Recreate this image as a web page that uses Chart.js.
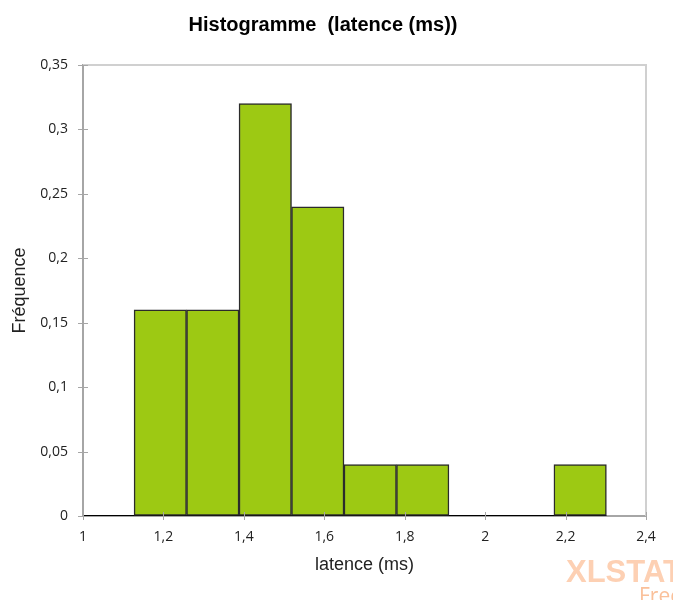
<!DOCTYPE html>
<html>
<head>
<meta charset="utf-8">
<script src="https://cdn.jsdelivr.net/npm/chart.js@4/dist/chart.umd.min.js"></script>
<style>
  body { margin: 0; background: #fff; }
</style>
</head>
<body>
<canvas id="histo" width="673" height="600"></canvas>
<script>
// bin edges (ms) and relative frequencies
var binEdges = [1.127, 1.2575, 1.388, 1.5185, 1.649, 1.7795, 1.91, 2.0405, 2.171, 2.3015]
var frequences = [0.16, 0.16, 0.32, 0.24, 0.04, 0.04, 0, 0, 0.04]
var xTicks = [1, 1.2, 1.4, 1.6, 1.8, 2, 2.2, 2.4]
var yTicks = [0, 0.05, 0.1, 0.15, 0.2, 0.25, 0.3, 0.35]

var barData = frequences.map(function (f, i) {
  return { x: (binEdges[i] + binEdges[i + 1]) / 2, y: f }
})
// black baseline of the histogram outline, from axis start to the last bin
var baseline = [{ x: xTicks[0], y: 0 }, { x: binEdges[binEdges.length - 1], y: 0 }]

function virgule(v) {
  return (Math.round(v * 100) / 100).toString().replace('.', ',')
}

var frame = {
  id: 'frame',
  afterDraw: function (chart) {
    var c = chart.ctx, a = chart.chartArea
    c.save()
    // top and right border
    c.strokeStyle = '#d0d0d0'
    c.lineWidth = 2
    c.beginPath()
    c.moveTo(a.left, a.top)
    c.lineTo(a.right, a.top)
    c.lineTo(a.right, a.bottom)
    c.stroke()
    // cross ticks
    c.strokeStyle = '#a6a6a6'
    c.lineWidth = 1
    c.beginPath()
    chart.scales.x.ticks.forEach(function (t) {
      var px = Math.round(chart.scales.x.getPixelForValue(t.value)) + 0.5
      c.moveTo(px, a.bottom - 4)
      c.lineTo(px, a.bottom + 4)
    })
    chart.scales.y.ticks.forEach(function (t) {
      var py = Math.round(chart.scales.y.getPixelForValue(t.value)) + 0.5
      c.moveTo(a.left - 5, py)
      c.lineTo(a.left + 5, py)
    })
    c.stroke()
    // watermark
    c.fillStyle = '#fdd0b3'
    c.font = 'bold 31px "Liberation Sans", Arial, sans-serif'
    c.textBaseline = 'alphabetic'
    c.fillText('XLSTAT', 566, 582)
    c.fillStyle = '#fac09a'
    c.font = '21px "Open Sans", sans-serif'
    c.fillText('Free', 639, 603)
    c.restore()
  }
}

var ctx = document.getElementById('histo')

var chart = new Chart(ctx, {
  type: 'bar',
  data: {
    datasets: [{
      type: 'line',
      data: baseline,
      borderColor: '#000',
      borderWidth: 2,
      pointRadius: 0,
      order: 1
    },
    {
      label: 'latence (ms)',
      data: barData,
      backgroundColor: '#9dc913',
      borderColor: '#2b2b2b',
      borderWidth: 1.5,
      borderSkipped: false,
      categoryPercentage: 1,
      barPercentage: 1,
      order: 0
    }]
  },
  options: {
    responsive: false,
    animation: false,
    layout: { padding: { left: 0, right: 27, top: 0, bottom: 0 } },
    plugins: {
      legend: { display: false },
      tooltip: { enabled: false },
      title: {
        display: true,
        text: 'Histogramme  (latence (ms))',
        color: '#000',
        font: { family: '"Liberation Sans", Arial, sans-serif', size: 20, weight: 'bold' },
        padding: { top: 13, bottom: 28 }
      }
    },
    scales: {
      x: {
        type: 'linear',
        offset: false,
        min: xTicks[0],
        max: xTicks[xTicks.length - 1],
        afterBuildTicks: function (s) { s.ticks = xTicks.map(function (v) { return { value: v } }) },
        afterFit: function (s) { s.height = 84 },
        grid: { display: true, drawOnChartArea: false, drawTicks: false, offset: false },
        border: { color: '#a6a6a6', width: 2 },
        ticks: {
          color: '#222',
          padding: 13,
          maxRotation: 0,
          font: { family: '"Open Sans", sans-serif', size: 14 },
          callback: function (v) { return virgule(v) }
        },
        title: {
          display: true,
          text: 'latence (ms)',
          color: '#222',
          font: { family: '"Liberation Sans", Arial, sans-serif', size: 18 },
          padding: { top: 0, bottom: 24 }
        }
      },
      y: {
        min: yTicks[0],
        max: yTicks[yTicks.length - 1],
        afterBuildTicks: function (s) { s.ticks = yTicks.map(function (v) { return { value: v } }) },
        afterFit: function (s) { s.width = 83 },
        grid: { display: true, drawOnChartArea: false, drawTicks: false },
        border: { color: '#a6a6a6', width: 2 },
        ticks: {
          color: '#222',
          padding: 15,
          font: { family: '"Open Sans", sans-serif', size: 14 },
          callback: function (v) { return virgule(v) }
        },
        title: {
          display: true,
          text: 'Fréquence',
          color: '#222',
          font: { family: '"Liberation Sans", Arial, sans-serif', size: 18 },
          padding: { top: 9, bottom: 0 }
        }
      }
    }
  },
  plugins: [frame]
})
</script>
</body>
</html>
